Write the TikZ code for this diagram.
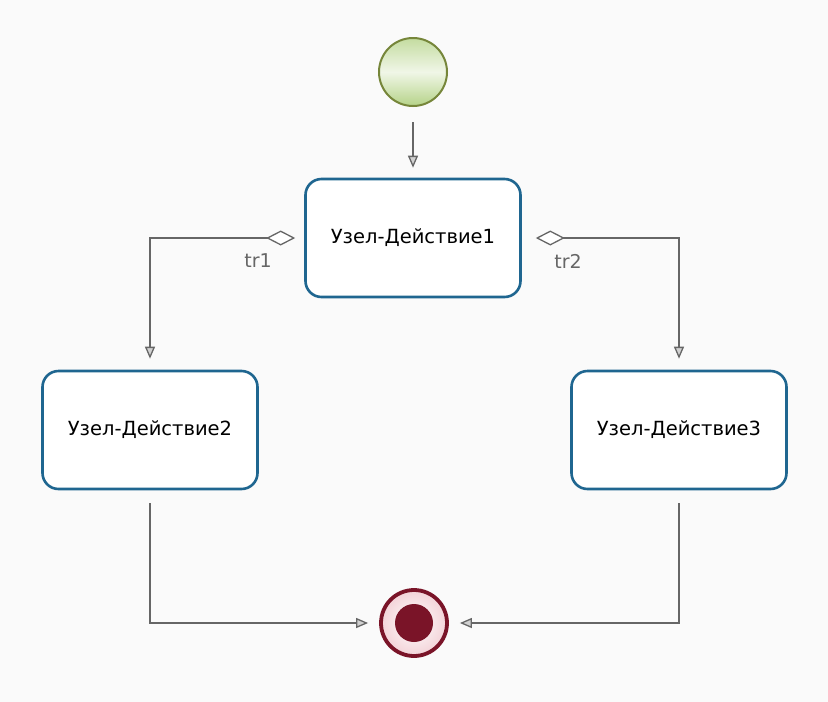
\documentclass[tikz,border=0pt]{standalone}
\usepackage{fontspec}
\setmainfont{DejaVu Sans}
\usetikzlibrary{arrows.meta,positioning}

\definecolor{boxblue}{HTML}{1F6690}
\definecolor{lineg}{HTML}{666666}
\definecolor{startg}{HTML}{B5D388}
\definecolor{startb}{HTML}{76863A}
\definecolor{endr}{HTML}{7A1428}
\definecolor{endp}{HTML}{F3D3D8}

\tikzset{
  action/.style={draw=boxblue, line width=2.6pt, fill=white, rounded corners=16pt,
    minimum width=215pt, minimum height=118pt, font=\fontsize{19.5}{22}\selectfont},
  flow/.style={draw=lineg, line width=1.3pt, -{Triangle[length=12pt,width=10pt,fill=lineg!30]}},
  trflow/.style={flow, {Diamond[open,length=29pt,width=15pt,fill=white]}-{Triangle[length=12pt,width=10pt,fill=lineg!30]}},
  trlabel/.style={text=lineg, font=\fontsize{19}{21}\selectfont}
}

\begin{document}
\begin{tikzpicture}[x=1pt,y=-1pt]

\useasboundingbox[fill=black!2] (0,0) rectangle (828,702);

\coordinate (s) at (413,72);
\coordinate (a1) at (413,238);
\coordinate (a2) at (150,430);
\coordinate (a3) at (679,430);
\coordinate (f) at (414,623);

\node [circle, minimum size=68pt, line width=2pt, draw=startb,
       top color=startg!80, bottom color=startg, middle color=startg!20] (start) at (s) {};

\node [action] (act1) at (a1) {Узел-Действие1};
\node [action] (act2) at (a2) {Узел-Действие2};
\node [action] (act3) at (a3) {Узел-Действие3};

\node [circle, minimum size=66pt, line width=3.8pt, draw=endr,
       inner color=white, outer color=endp] (finish) at (f) {};
\fill [endr] (finish) circle (19pt);

\draw [flow, shorten <=15pt, shorten >=10pt] (start) -- (act1);

\draw [trflow, shorten <=9pt, shorten >=11pt] (act1.west) -| (act2.north);
\draw [trflow, shorten <=14pt, shorten >=11pt] (act1.east) -| (act3.north);

\draw [flow, shorten <=13pt, shorten >=11pt] (act2.south) |- (finish.west);
\draw [flow, shorten <=13pt, shorten >=11pt] (act3.south) |- (finish.east);

\node [trlabel] (tr1) at (258,261) {tr1};
\node [trlabel] (tr2) at (568,261) {tr2};

\end{tikzpicture}
\end{document}
